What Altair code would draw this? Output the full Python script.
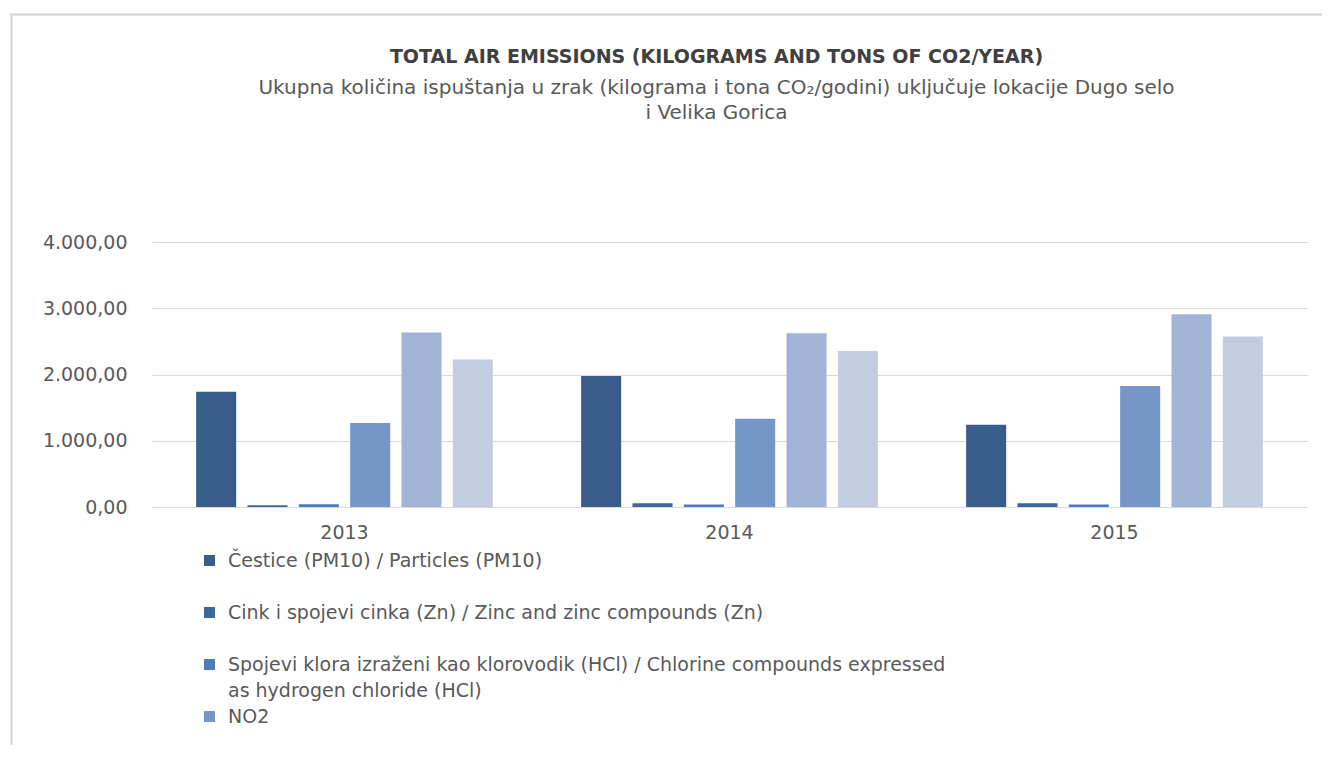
import altair as alt
import pandas as pd

years = ["2013", "2014", "2015"]
series = [
    "Čestice (PM10) / Particles (PM10)",
    "Cink i spojevi cinka (Zn) / Zinc and zinc compounds (Zn)",
    "Spojevi klora izraženi kao klorovodik (HCl) / Chlorine compounds expressed\nas hydrogen chloride (HCl)",
    "NO2",
    "SO2",
    "CO2",
]
colors = ["#385d8a", "#3e669e", "#4a7dba", "#7596c6", "#a2b4d5", "#c2cde2"]

pm10 = [1740, 1976, 1243]
zinc = [26, 56, 56]
hcl = [41, 36, 36]
no2 = [1267, 1333, 1825]
so2 = [2635, 2624, 2911]
co2 = [2228, 2353, 2575]

title_text = "TOTAL AIR EMISSIONS (KILOGRAMS AND TONS OF CO2/YEAR)"
subtitle_lines = [
    "Ukupna količina ispuštanja u zrak (kilograma i tona CO₂/godini) uključuje lokacije Dugo selo",
    "i Velika Gorica",
]

rows = []
for s, vals in zip(series, [pm10, zinc, hcl, no2, so2, co2]):
    for y, v in zip(years, vals):
        rows.append({"year": y, "series": s, "value": v})
df = pd.DataFrame(rows)

FONT = "DejaVu Sans"

bars = alt.Chart(df).mark_bar().encode(
    x=alt.X(
        "year:N",
        title=None,
        scale=alt.Scale(paddingInner=0.2, paddingOuter=0.1),
        axis=alt.Axis(
            labelAngle=0,
            ticks=False,
            domain=False,
            labelFontSize=19,
            labelFont=FONT,
            labelColor="#595959",
            labelPadding=16,
        ),
    ),
    xOffset=alt.XOffset(
        "series:N",
        sort=series,
        scale=alt.Scale(paddingInner=0.22, paddingOuter=0.11),
    ),
    y=alt.Y(
        "value:Q",
        title=None,
        scale=alt.Scale(domain=[0, 4000]),
        axis=alt.Axis(
            values=[0, 1000, 2000, 3000, 4000],
            ticks=False,
            domain=False,
            grid=True,
            gridColor="#d9d9d9",
            gridWidth=1,
            labelFontSize=19,
            labelFont=FONT,
            labelColor="#595959",
            labelPadding=25,
            labelExpr="replace(replace(replace(format(datum.value, ',.2f'), ',', '#'), '.', ','), '#', '.')",
        ),
    ),
    color=alt.Color(
        "series:N",
        scale=alt.Scale(domain=series, range=colors),
        legend=alt.Legend(
            title=None,
            orient="none",
            legendX=48,
            legendY=309,
            direction="vertical",
            values=series[:4],
            symbolType="square",
            symbolSize=120,
            symbolStrokeWidth=0,
            labelFont=FONT,
            labelFontSize=19,
            labelColor="#595959",
            labelLimit=1200,
            labelOffset=9,
            rowPadding=6,
            labelExpr="indexof(datum.label, '\\n') >= 0 ? split(datum.label, '\\n') : [datum.label, '']",
        ),
    ),
)

frame = alt.Chart(alt.Data(values=[{"k": 1}])).mark_rect(
    fill="transparent", stroke="#d9d9d9", strokeWidth=2.5
).encode(
    x=alt.value(-140.5),
    x2=alt.value(2000),
    y=alt.value(-227.5),
    y2=alt.value(2000),
)

chart = alt.layer(frame, bars).properties(
    width=1155,
    height=265,
    padding={"left": 144, "top": 234, "right": 15, "bottom": 238},
    autosize=alt.AutoSizeParams(type="none"),
    title=alt.TitleParams(
        text=title_text,
        subtitle=subtitle_lines,
        anchor="middle",
        frame="group",
        font=FONT,
        fontSize=19,
        fontWeight="bold",
        color="#404040",
        subtitleFont=FONT,
        subtitleFontSize=20,
        subtitleColor="#595959",
        subtitleLineHeight=25,
        subtitlePadding=11,
        offset=-110,
        dx=-13,
    ),
).configure(
    style={"guide-label": {"lineHeight": 26}},
    view=alt.ViewConfig(stroke=None),
)

chart.save("out.html", embed_options={"renderer": "svg", "actions": False})
